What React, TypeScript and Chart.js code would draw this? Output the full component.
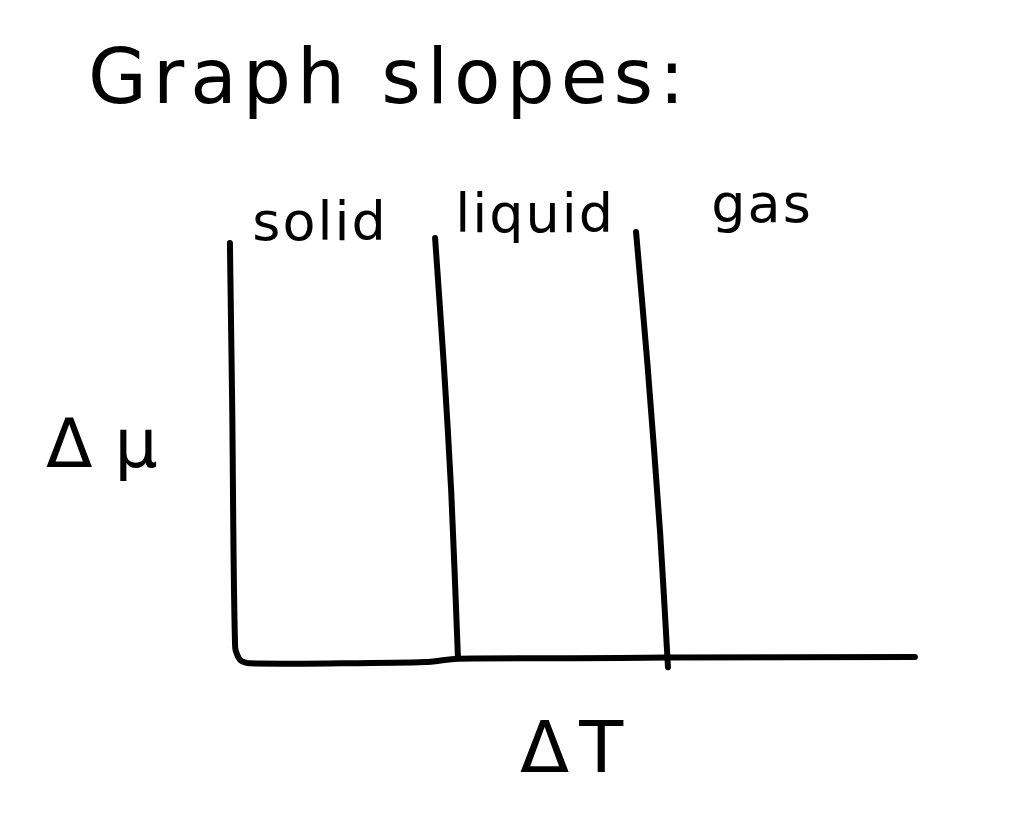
import React, { useEffect, useRef } from "react";
import { Chart, registerables } from "chart.js";

Chart.register(...registerables);

// ---- data (values in chart units) ----
const titleText = "Graph slopes:";
const regions = ["solid", "liquid", "gas"];
const regionLabelX = [0.4, 1.424, 2.505];
const regionLabelY = [1.0, 1.02, 1.043];
const yAxisLabel = "Δμ";
const yAxisLabelValue = 0.46;
const xAxisLabel = "ΔT";
const xAxisLabelValue = 1.6;

// axes (y axis bending into x axis)
const axesX = [-0.029, -0.018, -0.004, 0.02, 0.067, 0.5, 0.9, 1.057, 1.6, 2.057, 3.233];
const axesY = [0.993, 0.6, 0.03, 0.0, -0.008, -0.008, -0.005, 0.003, 0.004, 0.006, 0.007];
// phase boundaries
const divider1X = [0.948, 0.99, 1.025, 1.057];
const divider1Y = [1.005, 0.7, 0.4, 0.005];
const divider2X = [1.905, 1.96, 2.02, 2.057];
const divider2Y = [1.019, 0.7, 0.3, -0.017];

const toPts = (xs: number[], ys: number[]) => xs.map((v, i) => ({ x: v, y: ys[i] }));

const FONT = "'DejaVu Sans', sans-serif";

const sketchText = {
  id: "sketchText",
  afterDraw(chart: any) {
    const { ctx } = chart;
    const x = chart.scales.x;
    const y = chart.scales.y;
    ctx.save();
    ctx.fillStyle = "#000";
    ctx.textBaseline = "alphabetic";

    // title
    ctx.font = `76px ${FONT}`;
    ctx.textAlign = "left";
    (ctx as any).letterSpacing = "6px";
    ctx.fillText(titleText, 88, 103);

    // region labels
    ctx.font = `54px ${FONT}`;
    ctx.textAlign = "center";
    (ctx as any).letterSpacing = "2px";
    regions.forEach((r, i) => {
      ctx.fillText(r, x.getPixelForValue(regionLabelX[i]), y.getPixelForValue(regionLabelY[i]));
    });

    // y axis label (horizontal)
    ctx.font = `68px ${FONT}`;
    ctx.textAlign = "left";
    (ctx as any).letterSpacing = "22px";
    ctx.fillText(yAxisLabel, x.getPixelForValue(0) - 190, y.getPixelForValue(yAxisLabelValue));

    // x axis label
    ctx.font = `72px ${FONT}`;
    ctx.textAlign = "left";
    (ctx as any).letterSpacing = "10px";
    ctx.fillText(xAxisLabel, x.getPixelForValue(xAxisLabelValue) - 52, y.getPixelForValue(0) + 112);
    ctx.restore();
  },
};

export default function App() {
  const ref = useRef<HTMLCanvasElement | null>(null);
  useEffect(() => {
    if (!ref.current) return;
    const line = {
      showLine: true,
      borderColor: "#000",
      backgroundColor: "#000",
      borderWidth: 6,
      pointRadius: 0,
      tension: 0.25,
      borderCapStyle: "round" as const,
      borderJoinStyle: "round" as const,
      fill: false,
    };
    const chart = new Chart(ref.current, {
      type: "scatter",
      data: {
        datasets: [
          { label: "axes", data: toPts(axesX, axesY), ...line },
          { label: "solid|liquid", data: toPts(divider1X, divider1Y), ...line },
          { label: "liquid|gas", data: toPts(divider2X, divider2Y), ...line },
        ],
      },
      options: {
        responsive: false,
        animation: false,
        layout: { padding: { left: 215, right: 95, top: 219, bottom: 147 } },
        scales: {
          x: { type: "linear", min: -0.1, max: 3.3, display: false },
          y: { type: "linear", min: -0.05, max: 1.05, display: false },
        },
        plugins: {
          legend: { display: false },
          tooltip: { enabled: false },
          title: { display: false },
        },
      },
      plugins: [sketchText],
    });
    return () => chart.destroy();
  }, []);
  return (
    <div style={{ position: "fixed", left: 0, top: 0, width: 1024, height: 828, background: "#fff" }}>
      <canvas ref={ref} width={1024} height={828} />
    </div>
  );
}
